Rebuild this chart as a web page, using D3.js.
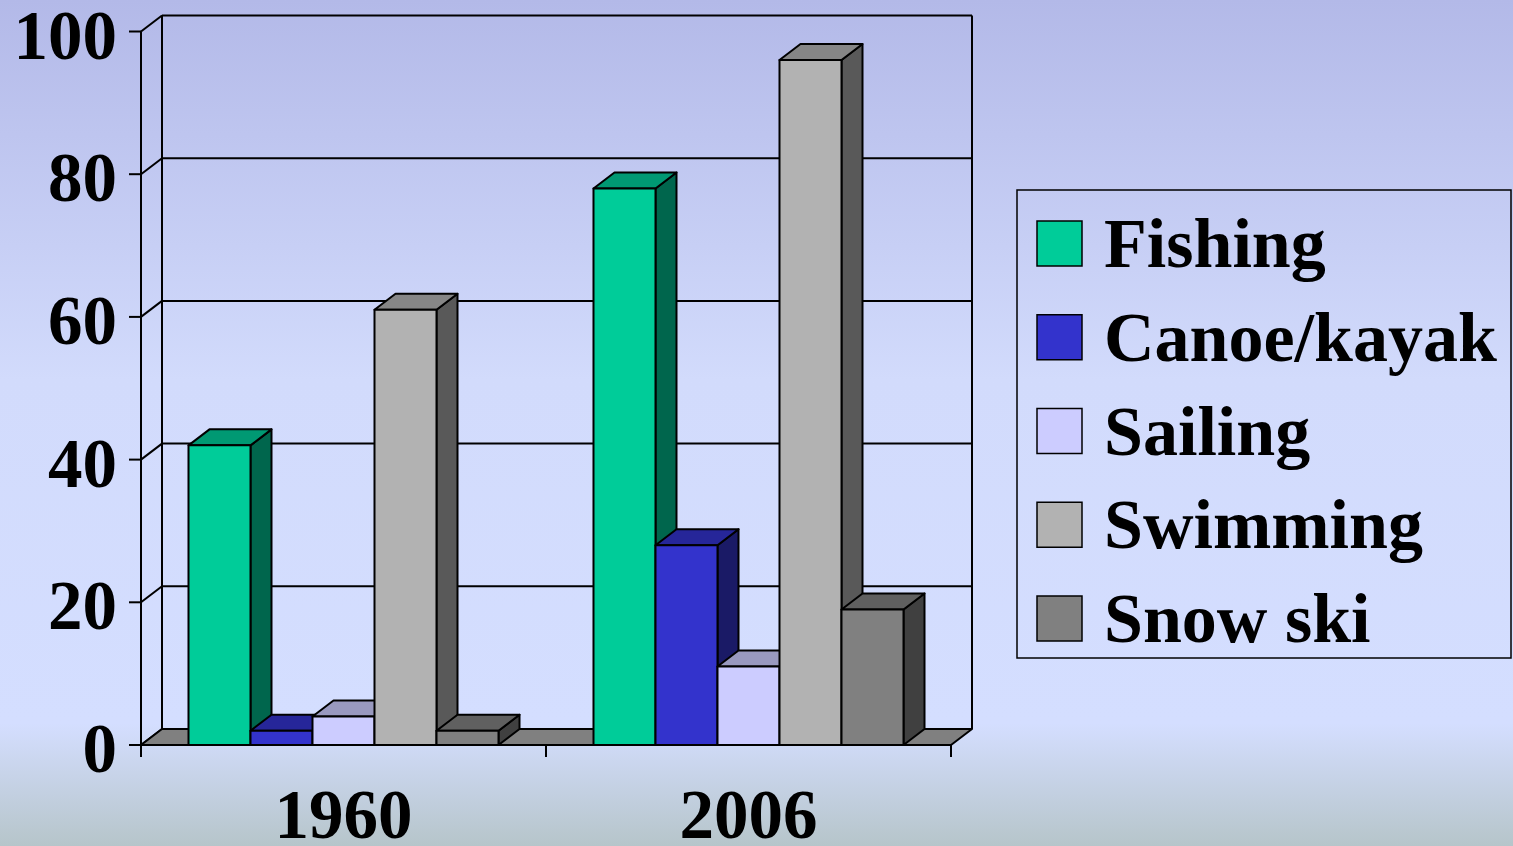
<!DOCTYPE html>
<html>
<head>
<meta charset="utf-8">
<script src="https://cdn.jsdelivr.net/npm/d3@7/dist/d3.min.js"></script>
<style>
  html, body { margin: 0; padding: 0; overflow: hidden; }
  svg { display: block; }
</style>
</head>
<body>
<svg id="chart"></svg>
<script>
const years = ['1960', '2006'];
const activities = ['Fishing', 'Canoe/kayak', 'Sailing', 'Swimming', 'Snow ski'];
const values1960 = [42, 2, 4, 61, 2];
const values2006 = [78, 28, 11, 96, 19];
const yTicks = [0, 20, 40, 60, 80, 100];
const frontColors = ['#00cc99', '#3333cc', '#ccccff', '#b2b2b2', '#808080'];

const W = 1513, H = 846;
const font = '"Liberation Serif", "Times New Roman", serif';
const dx = 21, dy = -16;

const svg = d3.select('#chart').attr('width', W).attr('height', H);

// slide background
const defs = svg.append('defs');
const grad = defs.append('linearGradient')
  .attr('id', 'bg').attr('x1', 0).attr('y1', 0).attr('x2', 0).attr('y2', 1);
[[0, '#b3b9e8'], [0.45, '#d2dbfc'], [0.855, '#d4deff'], [1, '#b6c5ca']].forEach(([o, c]) => {
  grad.append('stop').attr('offset', o).attr('stop-color', c);
});
svg.append('rect').attr('width', W).attr('height', H).attr('fill', 'url(#bg)');

const x = d3.scaleBand().domain(years).range([141, 951]);
const xs = d3.scaleBand().domain(activities).range([0, x.bandwidth()]).paddingOuter(0.766);
const y = d3.scaleLinear().domain([0, 100]).range([745, 31.5]);

const data = years.map((yr, i) => ({
  year: yr,
  values: (i === 0 ? values1960 : values2006).map((v, j) => ({ name: activities[j], value: v, color: frontColors[j] }))
}));

const g = svg.append('g');
const line = (x1, y1, x2, y2) => g.append('line')
  .attr('x1', x1).attr('y1', y1).attr('x2', x2).attr('y2', y2)
  .attr('stroke', '#000').attr('stroke-width', 2);

const x0 = x.range()[0], x1 = x.range()[1];

// back wall and gridlines
yTicks.forEach(t => {
  if (t > 0) line(x0 + dx, y(t) + dy, x1 + dx, y(t) + dy);
  line(x0, y(t), x0 + dx, y(t) + dy);
  line(x0 - 12, y(t), x0, y(t));
});
line(x0 + dx, y(100) + dy, x0 + dx, y(0) + dy);
line(x1 + dx, y(100) + dy, x1 + dx, y(0) + dy);
line(x0, y(100), x0, y(0));

// floor
g.append('polygon')
  .attr('points', [[x0, y(0)], [x0 + dx, y(0) + dy], [x1 + dx, y(0) + dy], [x1, y(0)]].join(' '))
  .attr('fill', '#808080').attr('stroke', '#000').attr('stroke-width', 2).attr('stroke-linejoin', 'round');

// bars, left to right
const shade = (c, k) => d3.rgb(c).darker(0).copy({ r: d3.rgb(c).r * k, g: d3.rgb(c).g * k, b: d3.rgb(c).b * k }).formatHex();
data.forEach(grp => {
  grp.values.forEach(d => {
    const bx = x(grp.year) + xs(d.name);
    const w = xs.bandwidth();
    const yt = y(d.value), yb = y(0);
    const bar = g.append('g').attr('stroke', '#000').attr('stroke-width', 2).attr('stroke-linejoin', 'round');
    bar.append('polygon')
      .attr('points', [[bx + w, yt], [bx + w + dx, yt + dy], [bx + w + dx, yb + dy], [bx + w, yb]].join(' '))
      .attr('fill', shade(d.color, 0.5));
    bar.append('polygon')
      .attr('points', [[bx, yt], [bx + dx, yt + dy], [bx + w + dx, yt + dy], [bx + w, yt]].join(' '))
      .attr('fill', shade(d.color, 0.75));
    bar.append('rect')
      .attr('x', bx).attr('y', yt).attr('width', w).attr('height', yb - yt)
      .attr('fill', d.color);
  });
});

// front x axis
line(x0, y(0), x1, y(0));
[x0, x0 + x.step(), x1].forEach(t => line(t, y(0), t, y(0) + 12));

// tick labels
g.selectAll('.ytick').data(yTicks).join('text')
  .attr('x', 117).attr('y', d => y(d) + 27)
  .attr('text-anchor', 'end')
  .attr('font-family', font).attr('font-weight', 'bold').attr('font-size', '69px')
  .attr('fill', '#000')
  .text(d => d);

g.selectAll('.xtick').data(years).join('text')
  .attr('x', d => x(d) + x.bandwidth() / 2).attr('y', 838)
  .attr('text-anchor', 'middle')
  .attr('font-family', font).attr('font-weight', 'bold').attr('font-size', '69px')
  .attr('fill', '#000')
  .text(d => d);

// legend
const leg = svg.append('g');
leg.append('rect')
  .attr('x', 1017).attr('y', 190).attr('width', 494).attr('height', 468)
  .attr('fill', 'none').attr('stroke', '#000').attr('stroke-width', 1.5);
activities.forEach((name, i) => {
  const ly = 221 + i * 93.75;
  leg.append('rect')
    .attr('x', 1037).attr('y', ly).attr('width', 45).attr('height', 45)
    .attr('fill', frontColors[i]).attr('stroke', '#000').attr('stroke-width', 1.5);
  leg.append('text')
    .attr('x', 1104).attr('y', ly + 46)
    .attr('font-family', font).attr('font-weight', 'bold').attr('font-size', '70px')
    .attr('fill', '#000')
    .text(name);
});
</script>
</body>
</html>
